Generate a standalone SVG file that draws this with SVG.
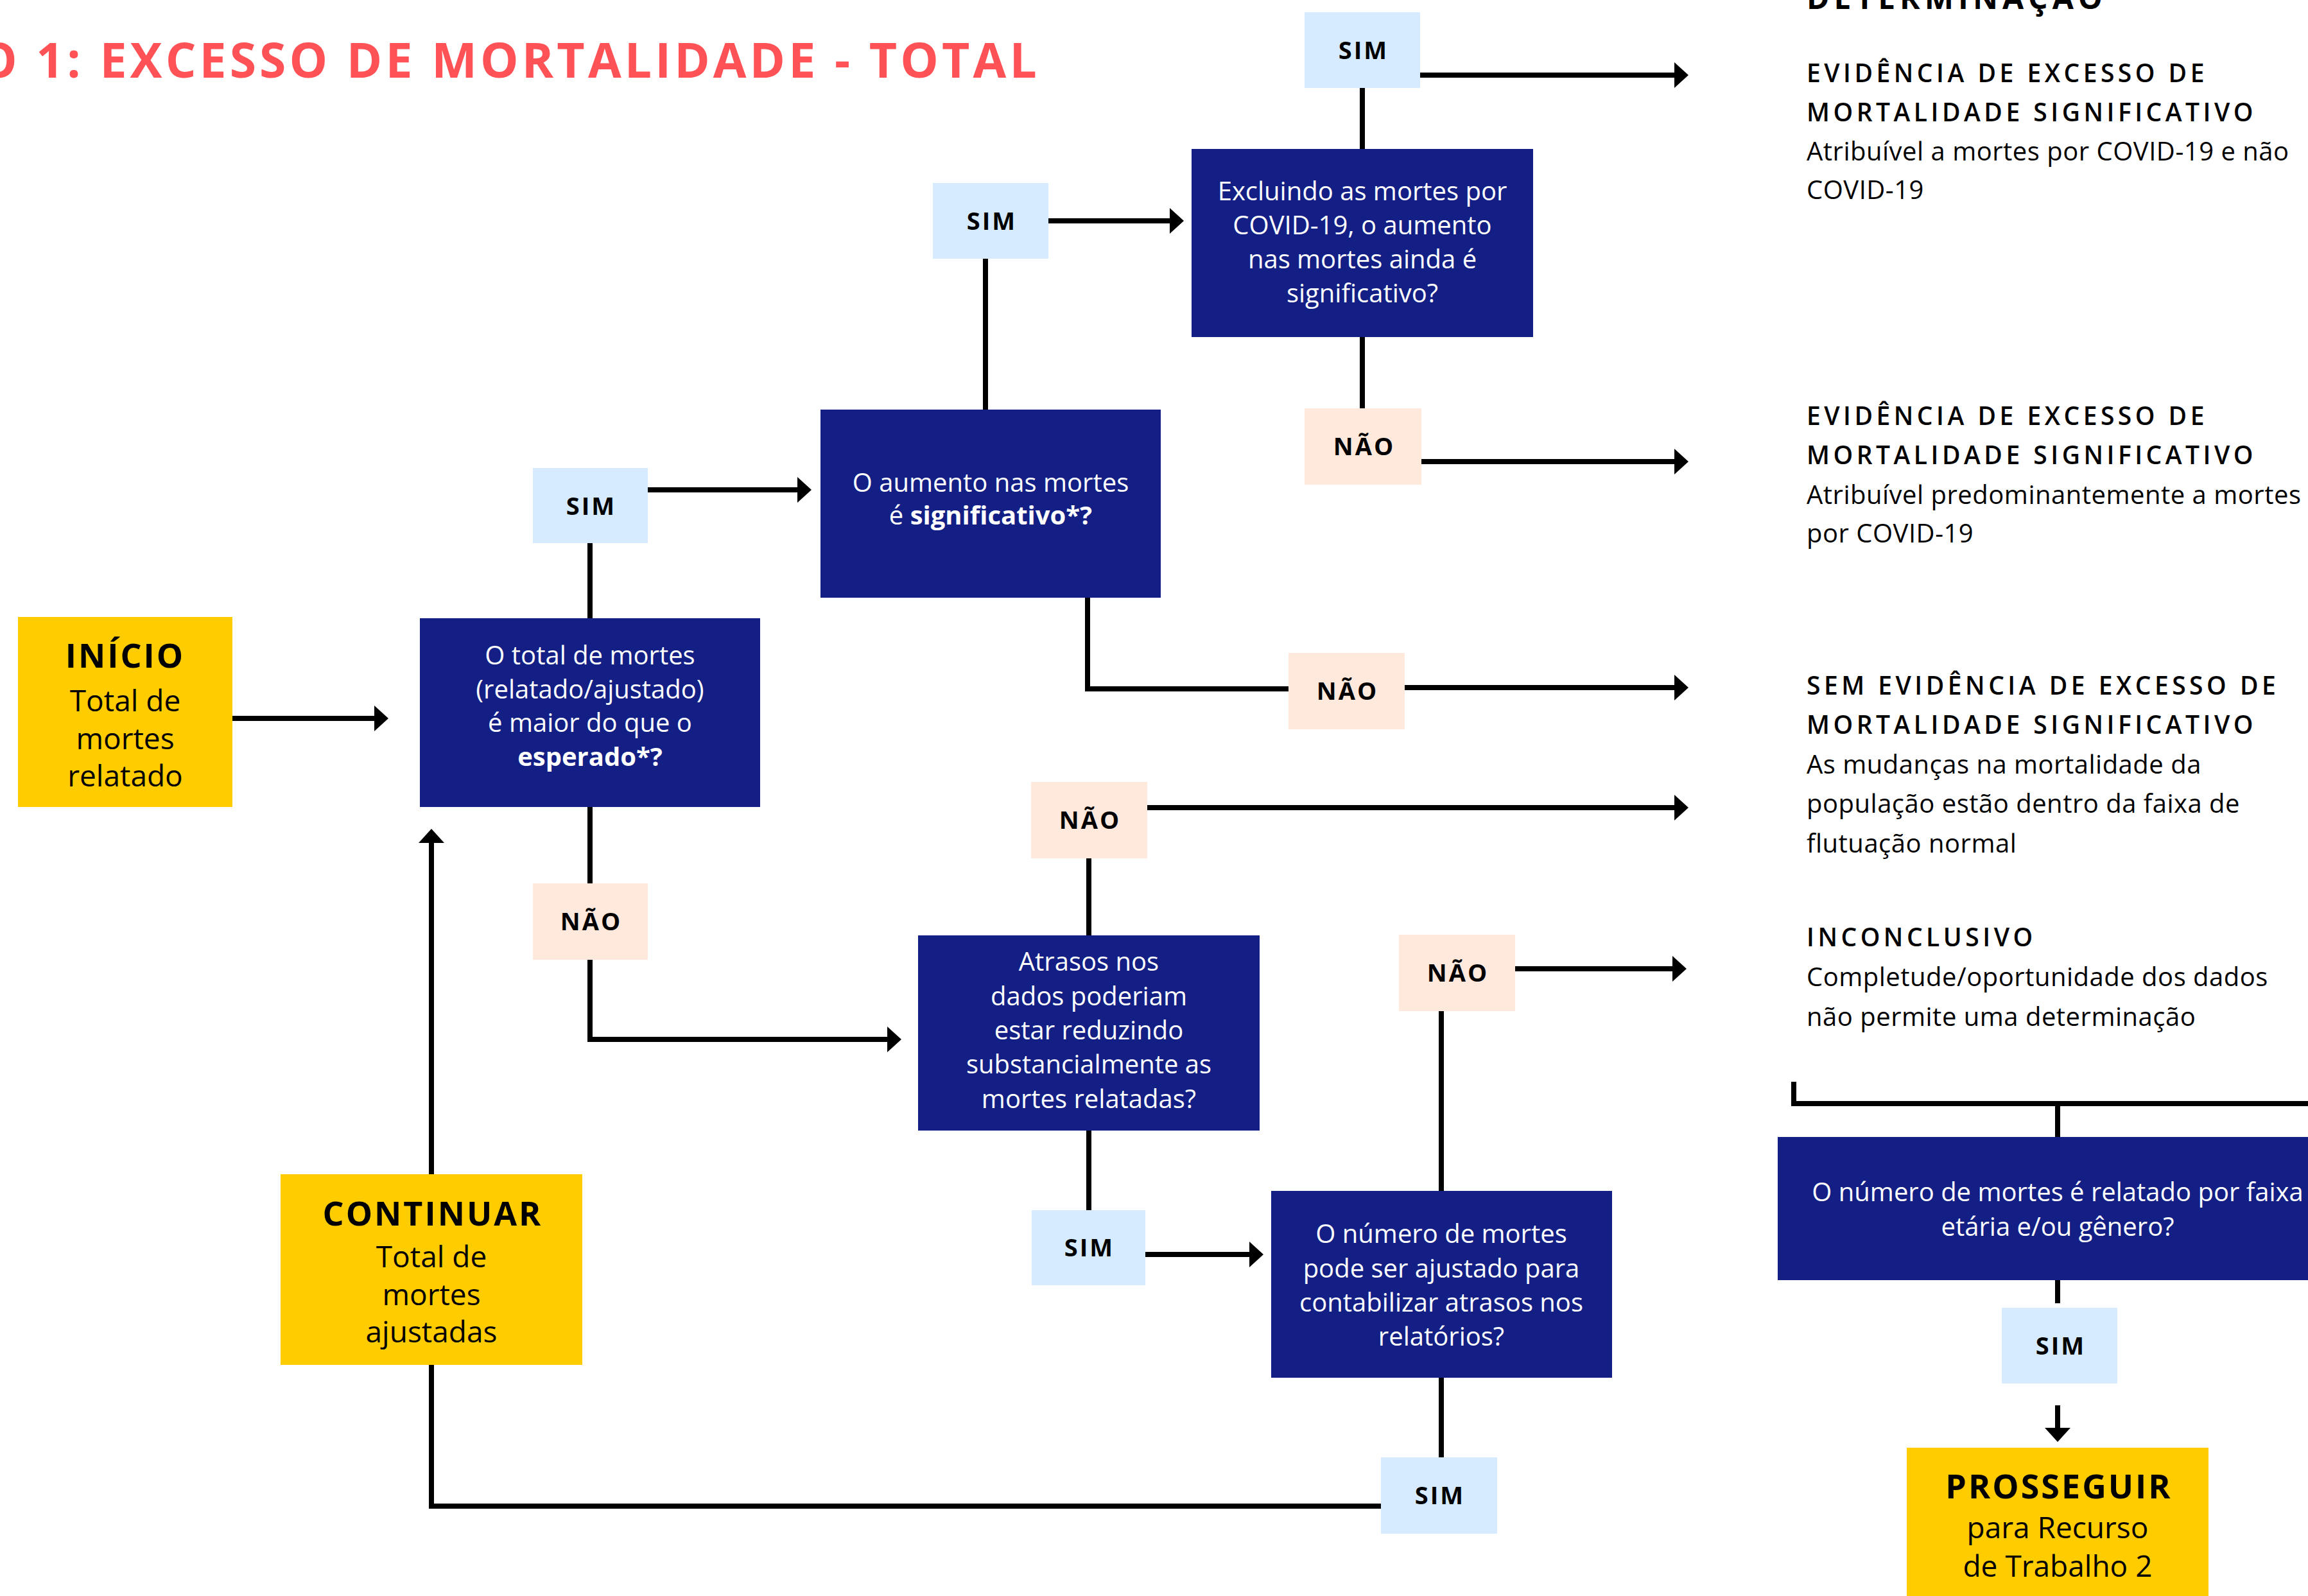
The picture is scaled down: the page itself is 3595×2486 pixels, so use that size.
<svg xmlns="http://www.w3.org/2000/svg" width="3595" height="2486" viewBox="0 0 3595 2486">
<defs>
<style>
text{font-family:"Open Sans","Liberation Sans",sans-serif}
.title{font-size:75px;font-weight:700;fill:#FF5257;letter-spacing:5.1px}
.dethead{font-size:48px;font-weight:700;fill:#000;letter-spacing:7px}
.rh{font-size:39px;font-weight:600;fill:#000;letter-spacing:5.5px}
.rb{font-size:40px;fill:#000;letter-spacing:0.5px}
.q{fill:#131F85}
.qt{font-size:40px;fill:#fff;text-anchor:middle}
.b{font-weight:700}
.y{fill:#FFCC00}
.yh{font-size:52px;font-weight:700;fill:#000;text-anchor:middle;letter-spacing:3px}
.yt{font-size:46px;fill:#000;text-anchor:middle}
.sim{fill:#D6EBFF}
.nao{fill:#FFE8DC}
.lb{font-size:38px;font-weight:700;fill:#000;text-anchor:middle;letter-spacing:3px}
.c{fill:none;stroke:#000;stroke-width:8}
</style>
<marker id="ah" markerUnits="userSpaceOnUse" viewBox="0 0 22 40" markerWidth="22" markerHeight="40" refX="16" refY="20" orient="auto">
<path d="M0,0 L22,20 L0,40 Z" fill="#000"/>
</marker>
</defs>
<rect width="3595" height="2486" fill="#fff"/>

<text class="title" x="-33" y="121">O 1: EXCESSO DE MORTALIDADE - TOTAL</text>
<text class="dethead" x="2814" y="14">DETERMINAÇÃO</text>

<g id="connectors">
<path class="c" d="M362,1119 H599" marker-end="url(#ah)"/>
<path class="c" d="M919,963 V846"/>
<path class="c" d="M1009,763 H1258" marker-end="url(#ah)"/>
<path class="c" d="M1535,638 V403"/>
<path class="c" d="M1633,344 H1838" marker-end="url(#ah)"/>
<path class="c" d="M2122,232 V137"/>
<path class="c" d="M2212,117 H2624" marker-end="url(#ah)"/>
<path class="c" d="M2122,525 V636"/>
<path class="c" d="M2214,719 H2624" marker-end="url(#ah)"/>
<path class="c" d="M1694,931 V1073 H2007"/>
<path class="c" d="M2188,1071 H2624" marker-end="url(#ah)"/>
<path class="c" d="M919,1257 V1376"/>
<path class="c" d="M919,1495 V1619 H1398" marker-end="url(#ah)"/>
<path class="c" d="M1696,1457 V1337"/>
<path class="c" d="M1787,1258 H2624" marker-end="url(#ah)"/>
<path class="c" d="M1696,1761 V1885"/>
<path class="c" d="M1784,1954 H1962" marker-end="url(#ah)"/>
<path class="c" d="M2245,1855 V1575"/>
<path class="c" d="M2360,1509 H2621" marker-end="url(#ah)"/>
<path class="c" d="M2245,2146 V2270"/>
<path class="c" d="M2151,2346 H672 V1297" marker-end="url(#ah)"/>
<path class="c" d="M2794,1685 V1719 H3600"/>
<path class="c" d="M3205,1719 V1771"/>
<path class="c" d="M3205,1994 V2030"/>
<path class="c" d="M3205,2189 V2240" marker-end="url(#ah)"/>
</g>

<g id="inicio">
<rect class="y" x="28" y="961" width="334" height="296"/>
<text class="yh" x="195" y="1040">INÍCIO</text>
<text class="yt" x="195" y="1108">Total de</text>
<text class="yt" x="195" y="1167">mortes</text>
<text class="yt" x="195" y="1225">relatado</text>
</g>

<g id="q-total">
<rect class="q" x="654" y="963" width="530" height="294"/>
<text class="qt" x="919" y="1035">O total de mortes</text>
<text class="qt" x="919" y="1088">(relatado/ajustado)</text>
<text class="qt" x="919" y="1140">é maior do que o</text>
<text class="qt b" x="919" y="1193">esperado*?</text>
</g>

<g id="sim-1">
<rect class="sim" x="830" y="729" width="179" height="117"/>
<text class="lb" x="921" y="802">SIM</text>
</g>

<g id="q-aumento">
<rect class="q" x="1278" y="638" width="530" height="293"/>
<text class="qt" x="1543" y="766">O aumento nas mortes</text>
<text class="qt" x="1543" y="817">é <tspan class="b">significativo*?</tspan></text>
</g>

<g id="sim-2">
<rect class="sim" x="1453" y="285" width="180" height="118"/>
<text class="lb" x="1545" y="358">SIM</text>
</g>

<g id="q-excluindo">
<rect class="q" x="1856" y="232" width="532" height="293"/>
<text class="qt" x="2122" y="312">Excluindo as mortes por</text>
<text class="qt" x="2122" y="365">COVID-19, o aumento</text>
<text class="qt" x="2122" y="418">nas mortes ainda é</text>
<text class="qt" x="2122" y="471">significativo?</text>
</g>

<g id="sim-3">
<rect class="sim" x="2032" y="19" width="180" height="118"/>
<text class="lb" x="2124" y="92">SIM</text>
</g>

<g id="nao-1">
<rect class="nao" x="2032" y="636" width="182" height="119"/>
<text class="lb" x="2125" y="709">NÃO</text>
</g>

<g id="nao-2">
<rect class="nao" x="2007" y="1017" width="181" height="119"/>
<text class="lb" x="2099" y="1090">NÃO</text>
</g>

<g id="nao-3">
<rect class="nao" x="830" y="1376" width="179" height="119"/>
<text class="lb" x="921" y="1449">NÃO</text>
</g>

<g id="q-atrasos">
<rect class="q" x="1430" y="1457" width="532" height="304"/>
<text class="qt" x="1696" y="1512">Atrasos nos</text>
<text class="qt" x="1696" y="1566">dados poderiam</text>
<text class="qt" x="1696" y="1619">estar reduzindo</text>
<text class="qt" x="1696" y="1672">substancialmente as</text>
<text class="qt" x="1696" y="1726">mortes relatadas?</text>
</g>

<g id="nao-4">
<rect class="nao" x="1606" y="1218" width="181" height="119"/>
<text class="lb" x="1698" y="1291">NÃO</text>
</g>

<g id="sim-4">
<rect class="sim" x="1607" y="1885" width="177" height="117"/>
<text class="lb" x="1697" y="1957">SIM</text>
</g>

<g id="q-ajuste">
<rect class="q" x="1980" y="1855" width="531" height="291"/>
<text class="qt" x="2245" y="1936">O número de mortes</text>
<text class="qt" x="2245" y="1990">pode ser ajustado para</text>
<text class="qt" x="2245" y="2043">contabilizar atrasos nos</text>
<text class="qt" x="2245" y="2096">relatórios?</text>
</g>

<g id="nao-5">
<rect class="nao" x="2179" y="1456" width="181" height="119"/>
<text class="lb" x="2271" y="1529">NÃO</text>
</g>

<g id="sim-5">
<rect class="sim" x="2151" y="2270" width="181" height="119"/>
<text class="lb" x="2243" y="2343">SIM</text>
</g>

<g id="continuar">
<rect class="y" x="437" y="1829" width="470" height="297"/>
<text class="yh" x="674" y="1909">CONTINUAR</text>
<text class="yt" x="672" y="1974">Total de</text>
<text class="yt" x="672" y="2033">mortes</text>
<text class="yt" x="672" y="2091">ajustadas</text>
</g>

<g id="det-1">
<text class="rh" x="2814" y="128">EVIDÊNCIA DE EXCESSO DE</text>
<text class="rh" x="2814" y="189">MORTALIDADE SIGNIFICATIVO</text>
<text class="rb" x="2814" y="250">Atribuível a mortes por COVID-19 e não</text>
<text class="rb" x="2814" y="310">COVID-19</text>
</g>

<g id="det-2">
<text class="rh" x="2814" y="662">EVIDÊNCIA DE EXCESSO DE</text>
<text class="rh" x="2814" y="723">MORTALIDADE SIGNIFICATIVO</text>
<text class="rb" x="2814" y="785">Atribuível predominantemente a mortes</text>
<text class="rb" x="2814" y="845">por COVID-19</text>
</g>

<g id="det-3">
<text class="rh" x="2814" y="1082">SEM EVIDÊNCIA DE EXCESSO DE</text>
<text class="rh" x="2814" y="1143">MORTALIDADE SIGNIFICATIVO</text>
<text class="rb" x="2814" y="1205">As mudanças na mortalidade da</text>
<text class="rb" x="2814" y="1266">população estão dentro da faixa de</text>
<text class="rb" x="2814" y="1328">flutuação normal</text>
</g>

<g id="det-4">
<text class="rh" x="2814" y="1474">INCONCLUSIVO</text>
<text class="rb" x="2814" y="1536">Completude/oportunidade dos dados</text>
<text class="rb" x="2814" y="1598">não permite uma determinação</text>
</g>

<g id="q-faixa">
<rect class="q" x="2769" y="1771" width="900" height="223"/>
<text class="qt" x="3205" y="1871">O número de mortes é relatado por faixa</text>
<text class="qt" x="3205" y="1925">etária e/ou gênero?</text>
</g>

<g id="sim-6">
<rect class="sim" x="3118" y="2037" width="180" height="118"/>
<text class="lb" x="3210" y="2110">SIM</text>
</g>

<g id="prosseguir">
<rect class="y" x="2970" y="2255" width="470" height="260"/>
<text class="yh" x="3207" y="2334">PROSSEGUIR</text>
<text class="yt" x="3205" y="2396">para Recurso</text>
<text class="yt" x="3205" y="2456">de Trabalho 2</text>
</g>
</svg>
